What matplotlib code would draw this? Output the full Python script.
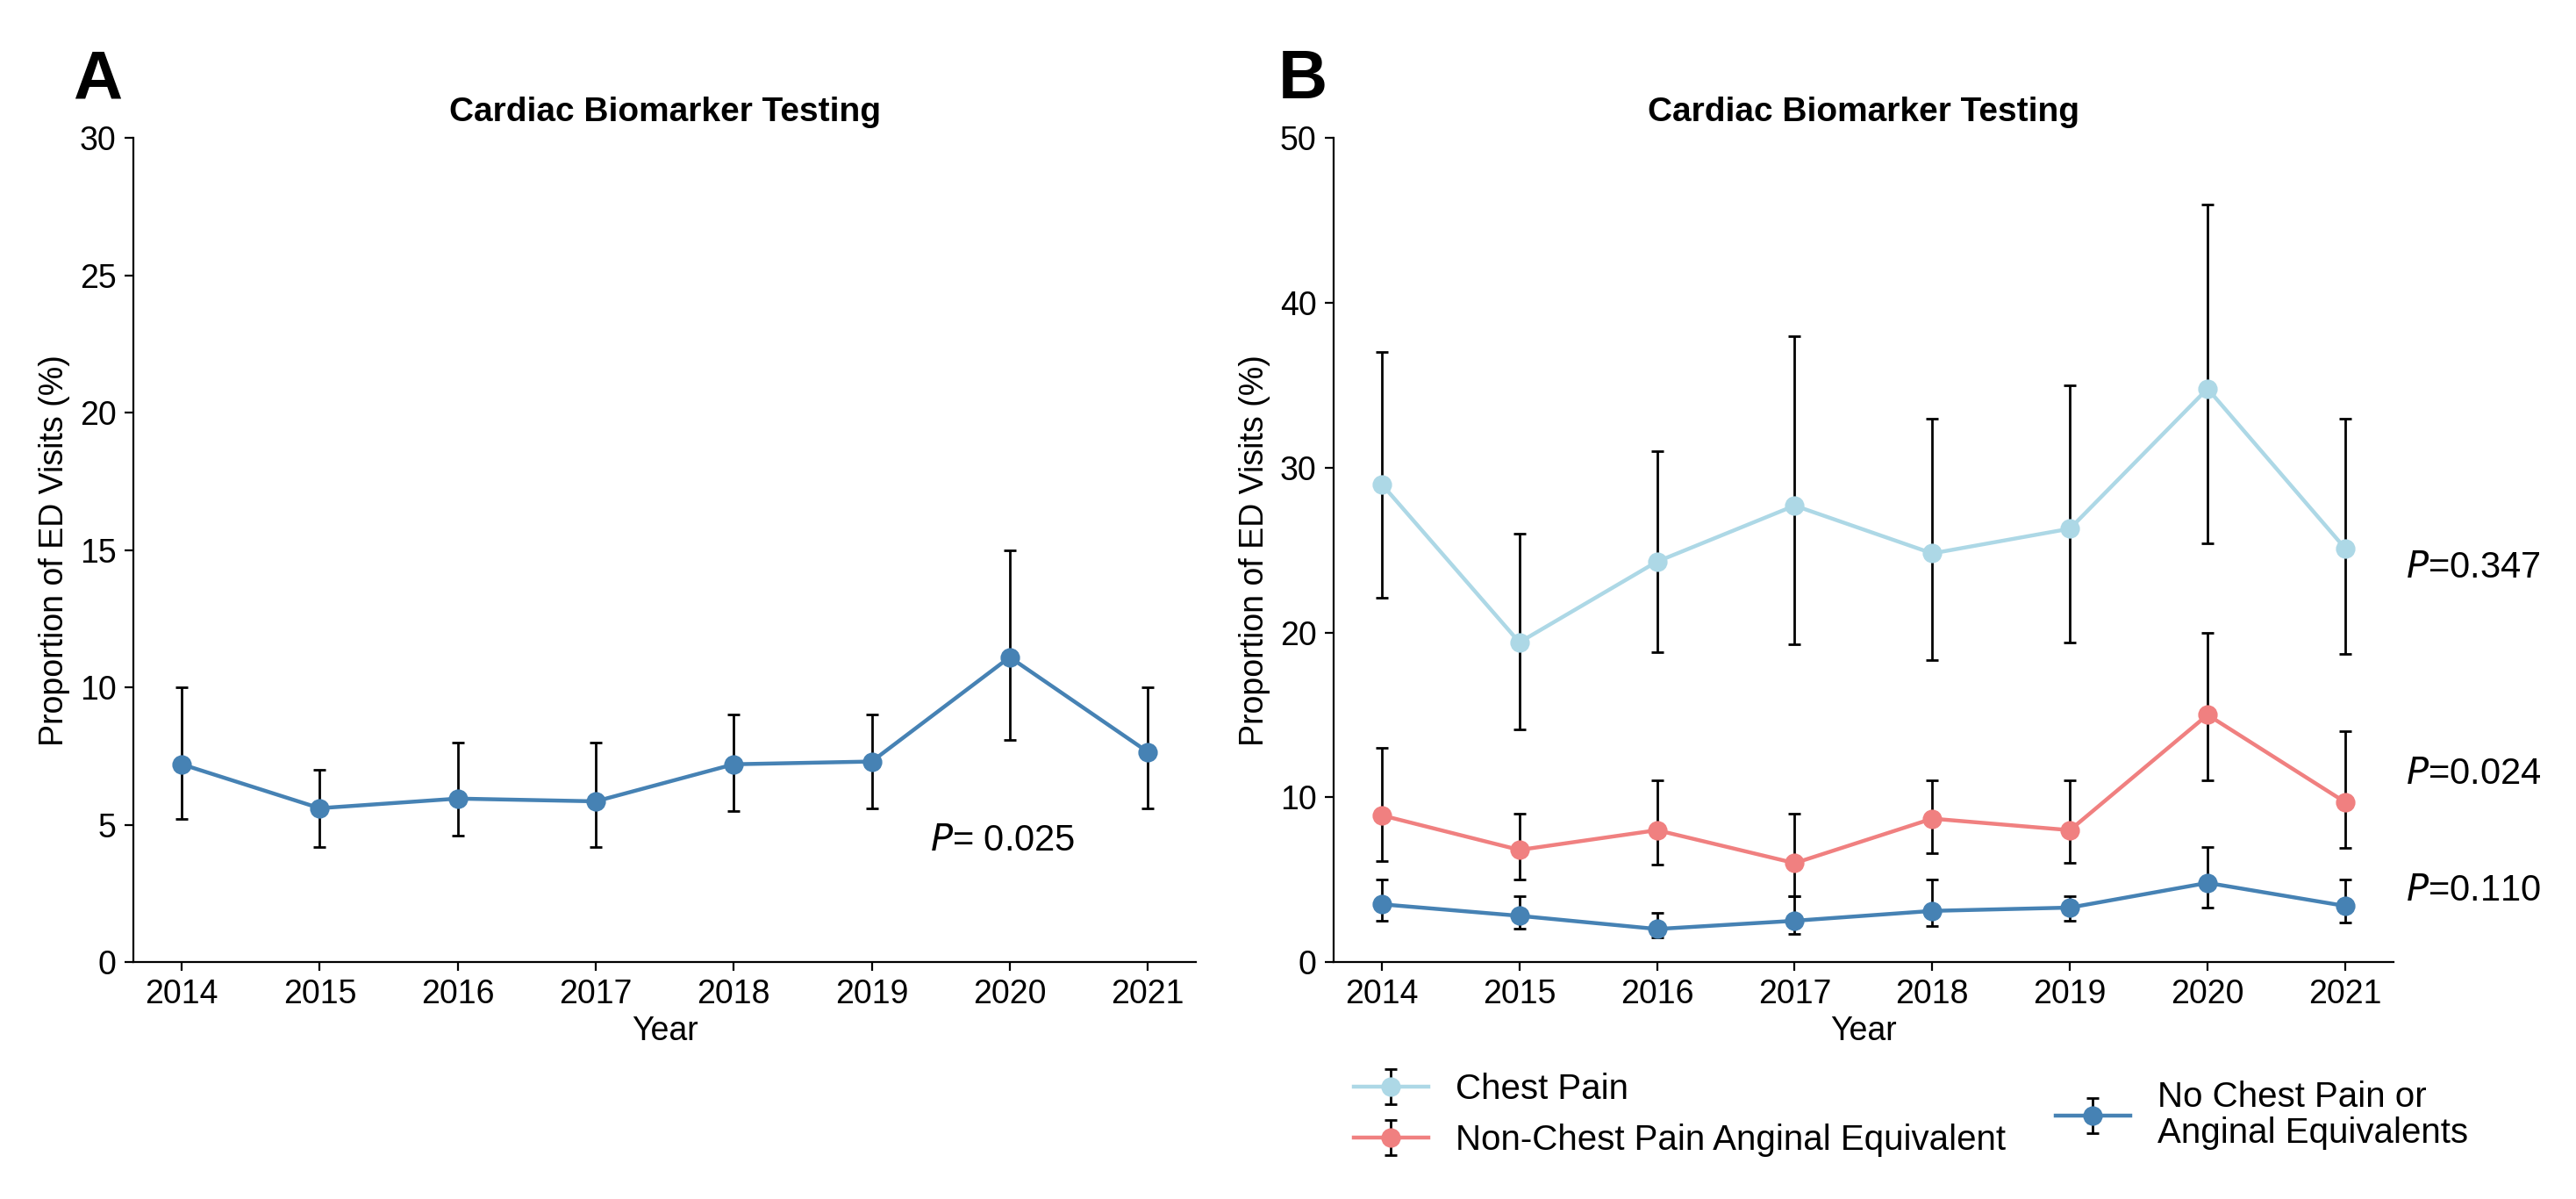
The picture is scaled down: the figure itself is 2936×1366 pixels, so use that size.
import matplotlib
matplotlib.use('Agg')
import matplotlib.pyplot as plt

plt.rcParams['font.family'] = ['Liberation Sans', 'DejaVu Sans']

years = [2014, 2015, 2016, 2017, 2018, 2019, 2020, 2021]

# panel A
all_mean = [7.2, 5.6, 5.95, 5.85, 7.2, 7.3, 11.1, 7.65]
all_low = [5.2, 4.2, 4.6, 4.2, 5.5, 5.6, 8.1, 5.6]
all_high = [10, 7, 8, 8, 9, 9, 15, 10]

# panel B
chest_mean = [29.0, 19.4, 24.3, 27.7, 24.8, 26.3, 34.8, 25.1]
chest_low = [22.1, 14.1, 18.8, 19.3, 18.3, 19.4, 25.4, 18.7]
chest_high = [37, 26, 31, 38, 33, 35, 46, 33]

angina_mean = [8.9, 6.8, 8.0, 6.0, 8.7, 8.0, 15.0, 9.7]
angina_low = [6.1, 5.0, 5.9, 4.0, 6.6, 6.0, 11.0, 6.9]
angina_high = [13, 9, 11, 9, 11, 11, 20, 14]

none_mean = [3.5, 2.8, 2.0, 2.5, 3.1, 3.3, 4.8, 3.4]
none_low = [2.5, 2.0, 1.5, 1.7, 2.2, 2.5, 3.3, 2.4]
none_high = [5, 4, 3, 4, 5, 4, 7, 5]

labels = ['Chest Pain', 'Non-Chest Pain Anginal Equivalent',
          'No Chest Pain or\nAnginal Equivalents']
colors = ['#ADD8E6', '#F08080', '#4682B4']
p_values = ['0.347', '0.024', '0.110']
p_y = [23.9, 11.4, 4.3]

fs = 13.5


def err(mean, low, high):
    return [[m - l for m, l in zip(mean, low)], [h - m for m, h in zip(mean, high)]]


def style(ax, ymax, step):
    ax.spines['top'].set_visible(False)
    ax.spines['right'].set_visible(False)
    ax.set_xlim(2013.65, 2021.35)
    ax.set_ylim(0, ymax)
    ax.set_xticks(years)
    ax.set_yticks(range(0, ymax + 1, step))
    ax.tick_params(labelsize=fs)
    ax.set_xlabel('Year', fontsize=fs, labelpad=2)
    ax.set_ylabel('Proportion of ED Visits (%)', fontsize=fs)
    ax.set_title('Cardiac Biomarker Testing', fontsize=14, fontweight='bold', pad=7)


fig = plt.figure(figsize=(14.68, 6.83), dpi=200)

ax1 = fig.add_axes([0.0518, 0.1977, 0.4125, 0.687])
ax1.errorbar(years, all_mean, yerr=err(all_mean, all_low, all_high), color='#4682B4',
             marker='o', markersize=7, lw=1.6, ecolor='black', elinewidth=1,
             capsize=2.5, capthick=1)
style(ax1, 30, 5)
ax1.text(2019.42, 4.4, r'$\it{P}$= 0.025', fontsize=15, ha='left', va='center')

ax2 = fig.add_axes([0.5177, 0.1977, 0.4114, 0.687])
series = [(chest_mean, chest_low, chest_high),
          (angina_mean, angina_low, angina_high),
          (none_mean, none_low, none_high)]
handles = []
for (m, lo, hi), c, lab in zip(series, colors, labels):
    h = ax2.errorbar(years, m, yerr=err(m, lo, hi), color=c, marker='o', markersize=7,
                     lw=1.6, ecolor='black', elinewidth=1, capsize=2.5, capthick=1,
                     label=lab)
    handles.append(h)
style(ax2, 50, 10)
for p, y in zip(p_values, p_y):
    ax2.text(1.012, y, r'$\it{P}$=' + p, transform=ax2.get_yaxis_transform(),
             fontsize=15, ha='left', va='center')

fig.legend(handles[:2], labels[:2], loc='center left',
           bbox_to_anchor=(0.5256, 0.07), frameon=False, fontsize=14.5,
           borderpad=0, borderaxespad=0, handlelength=2.1, handletextpad=0.77,
           labelspacing=0.5)
leg2 = fig.legend(handles[2:], labels[2:], loc='center left',
                  bbox_to_anchor=(0.798, 0.07), frameon=False, fontsize=14.5,
                  borderpad=0, borderaxespad=0, handlelength=2.1, handletextpad=0.77)
for t in leg2.get_texts():
    t.set_linespacing(1.1)

fig.text(0.0283, 0.918, 'A', fontsize=28, fontweight='bold', ha='left', va='baseline')
fig.text(0.496, 0.918, 'B', fontsize=28, fontweight='bold', ha='left', va='baseline')

fig.savefig('out.png', dpi=200)
